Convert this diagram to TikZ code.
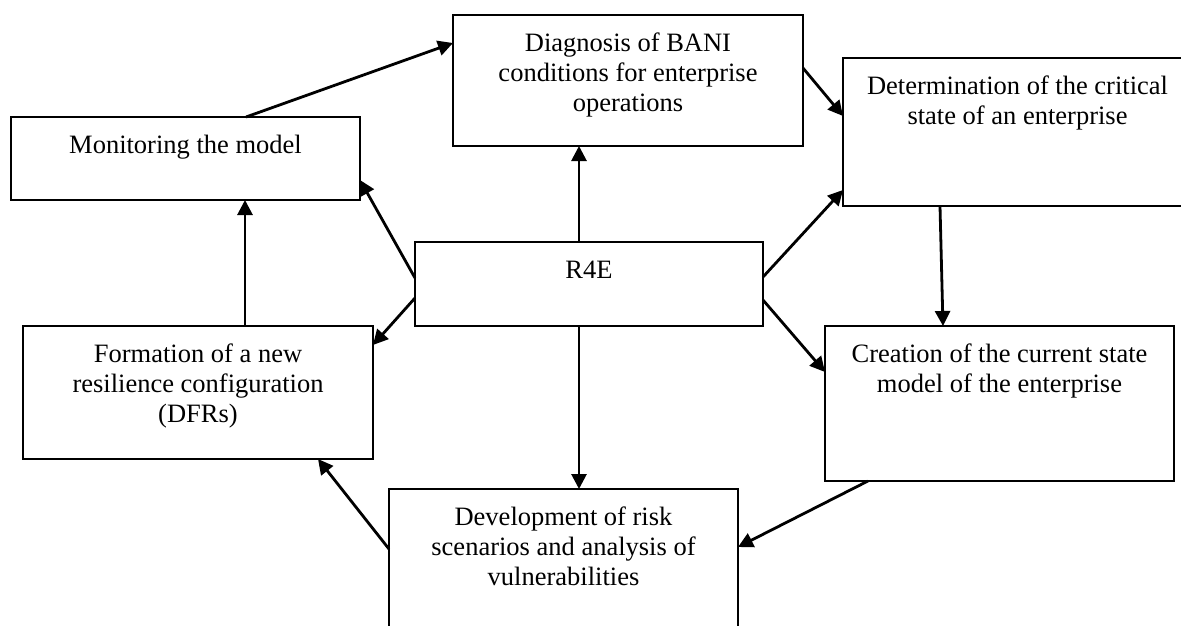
\documentclass[tikz,border=0pt]{standalone}
\usepackage{fontspec}
\setmainfont{Liberation Serif}
\usetikzlibrary{arrows.meta,calc}
\tikzset{
  box/.style={draw=black, line width=2pt, fill=white, inner sep=0pt, outer sep=0pt},
  lbl/.style={anchor=north, inner sep=0pt, align=center, font=\fontsize{26.5}{30}\selectfont},
  conn/.style={line width=2.8pt, -{Triangle[length=15pt,width=15pt]}}
}
\begin{document}
\begin{tikzpicture}[x=1pt,y=-1pt]
\useasboundingbox (0,0) rectangle (1181,626);
\clip (0,0) rectangle (1181,626);
\fill[white] (0,0) rectangle (1181,626);
% boxes
\node[box, minimum width=349pt, minimum height=83pt]  (mon)  at (185.5,158.5) {};
\node[box, minimum width=350pt, minimum height=131pt] (diag) at (628,80.5) {};
\node[box, minimum width=349pt, minimum height=148pt] (det)  at (1017.5,132) {};
\node[box, minimum width=348pt, minimum height=84pt]  (r4e)  at (589,284) {};
\node[box, minimum width=350pt, minimum height=133pt] (form) at (198,392.5) {};
\node[box, minimum width=349pt, minimum height=155pt] (crea) at (999.5,403.5) {};
\node[box, minimum width=349pt, minimum height=171pt] (dev)  at (563.5,574.5) {};
% labels
\node[lbl] (monT)  at ($(mon.north)+(0,15)$)  {\strut Monitoring the model};
\node[lbl] (diagT) at ($(diag.north)+(0,15)$) {\strut Diagnosis of BANI\\conditions for enterprise\\operations};
\node[lbl] (detT)  at ($(det.north)+(0,15)$)  {\strut Determination of the critical\\state of an enterprise};
\node[lbl] (r4eT)  at ($(r4e.north)+(0,15)$)  {\strut R4E};
\node[lbl] (formT) at ($(form.north)+(0,15)$) {\strut Formation of a new\\resilience configuration\\(DFRs)};
\node[lbl] (creaT) at ($(crea.north)+(0,15)$) {\strut Creation of the current state\\model of the enterprise};
\node[lbl] (devT)  at ($(dev.north)+(0,15)$)  {\strut Development of risk\\scenarios and analysis of\\vulnerabilities};
% cycle connectors
\draw[conn] ($(mon.north west)+(235,0)$) -- ($(diag.north west)+(0,28)$);
\draw[conn] ($(diag.north east)+(0,53)$) -- ($(det.north west)+(0,58)$);
\draw[conn] ($(det.south west)+(97,0)$) -- ($(crea.north west)+(118,0)$);
\draw[conn] ($(crea.south west)+(43,0)$) -- ($(dev.north east)+(0,58)$);
\draw[conn] ($(dev.north west)+(0,60)$) -- ($(form.south west)+(295,0)$);
\draw[conn] ($(form.north west)+(222,0)$) -- ($(mon.south west)+(234,0)$);
% R4E connectors
\draw[conn] ($(r4e.north west)+(0,36)$) -- ($(mon.north east)+(0,63)$);
\draw[conn] ($(r4e.north west)+(0,56)$) -- ($(form.north east)+(0,19)$);
\draw[conn] ($(r4e.north west)+(164,0)$) -- ($(diag.south west)+(126,0)$);
\draw[conn] ($(r4e.north east)+(0,35)$) -- ($(det.north west)+(0,132)$);
\draw[conn] ($(r4e.north east)+(0,58)$) -- ($(crea.north west)+(0,46)$);
\draw[conn] ($(r4e.south west)+(164,0)$) -- ($(dev.north west)+(190,0)$);
\end{tikzpicture}
\end{document}
